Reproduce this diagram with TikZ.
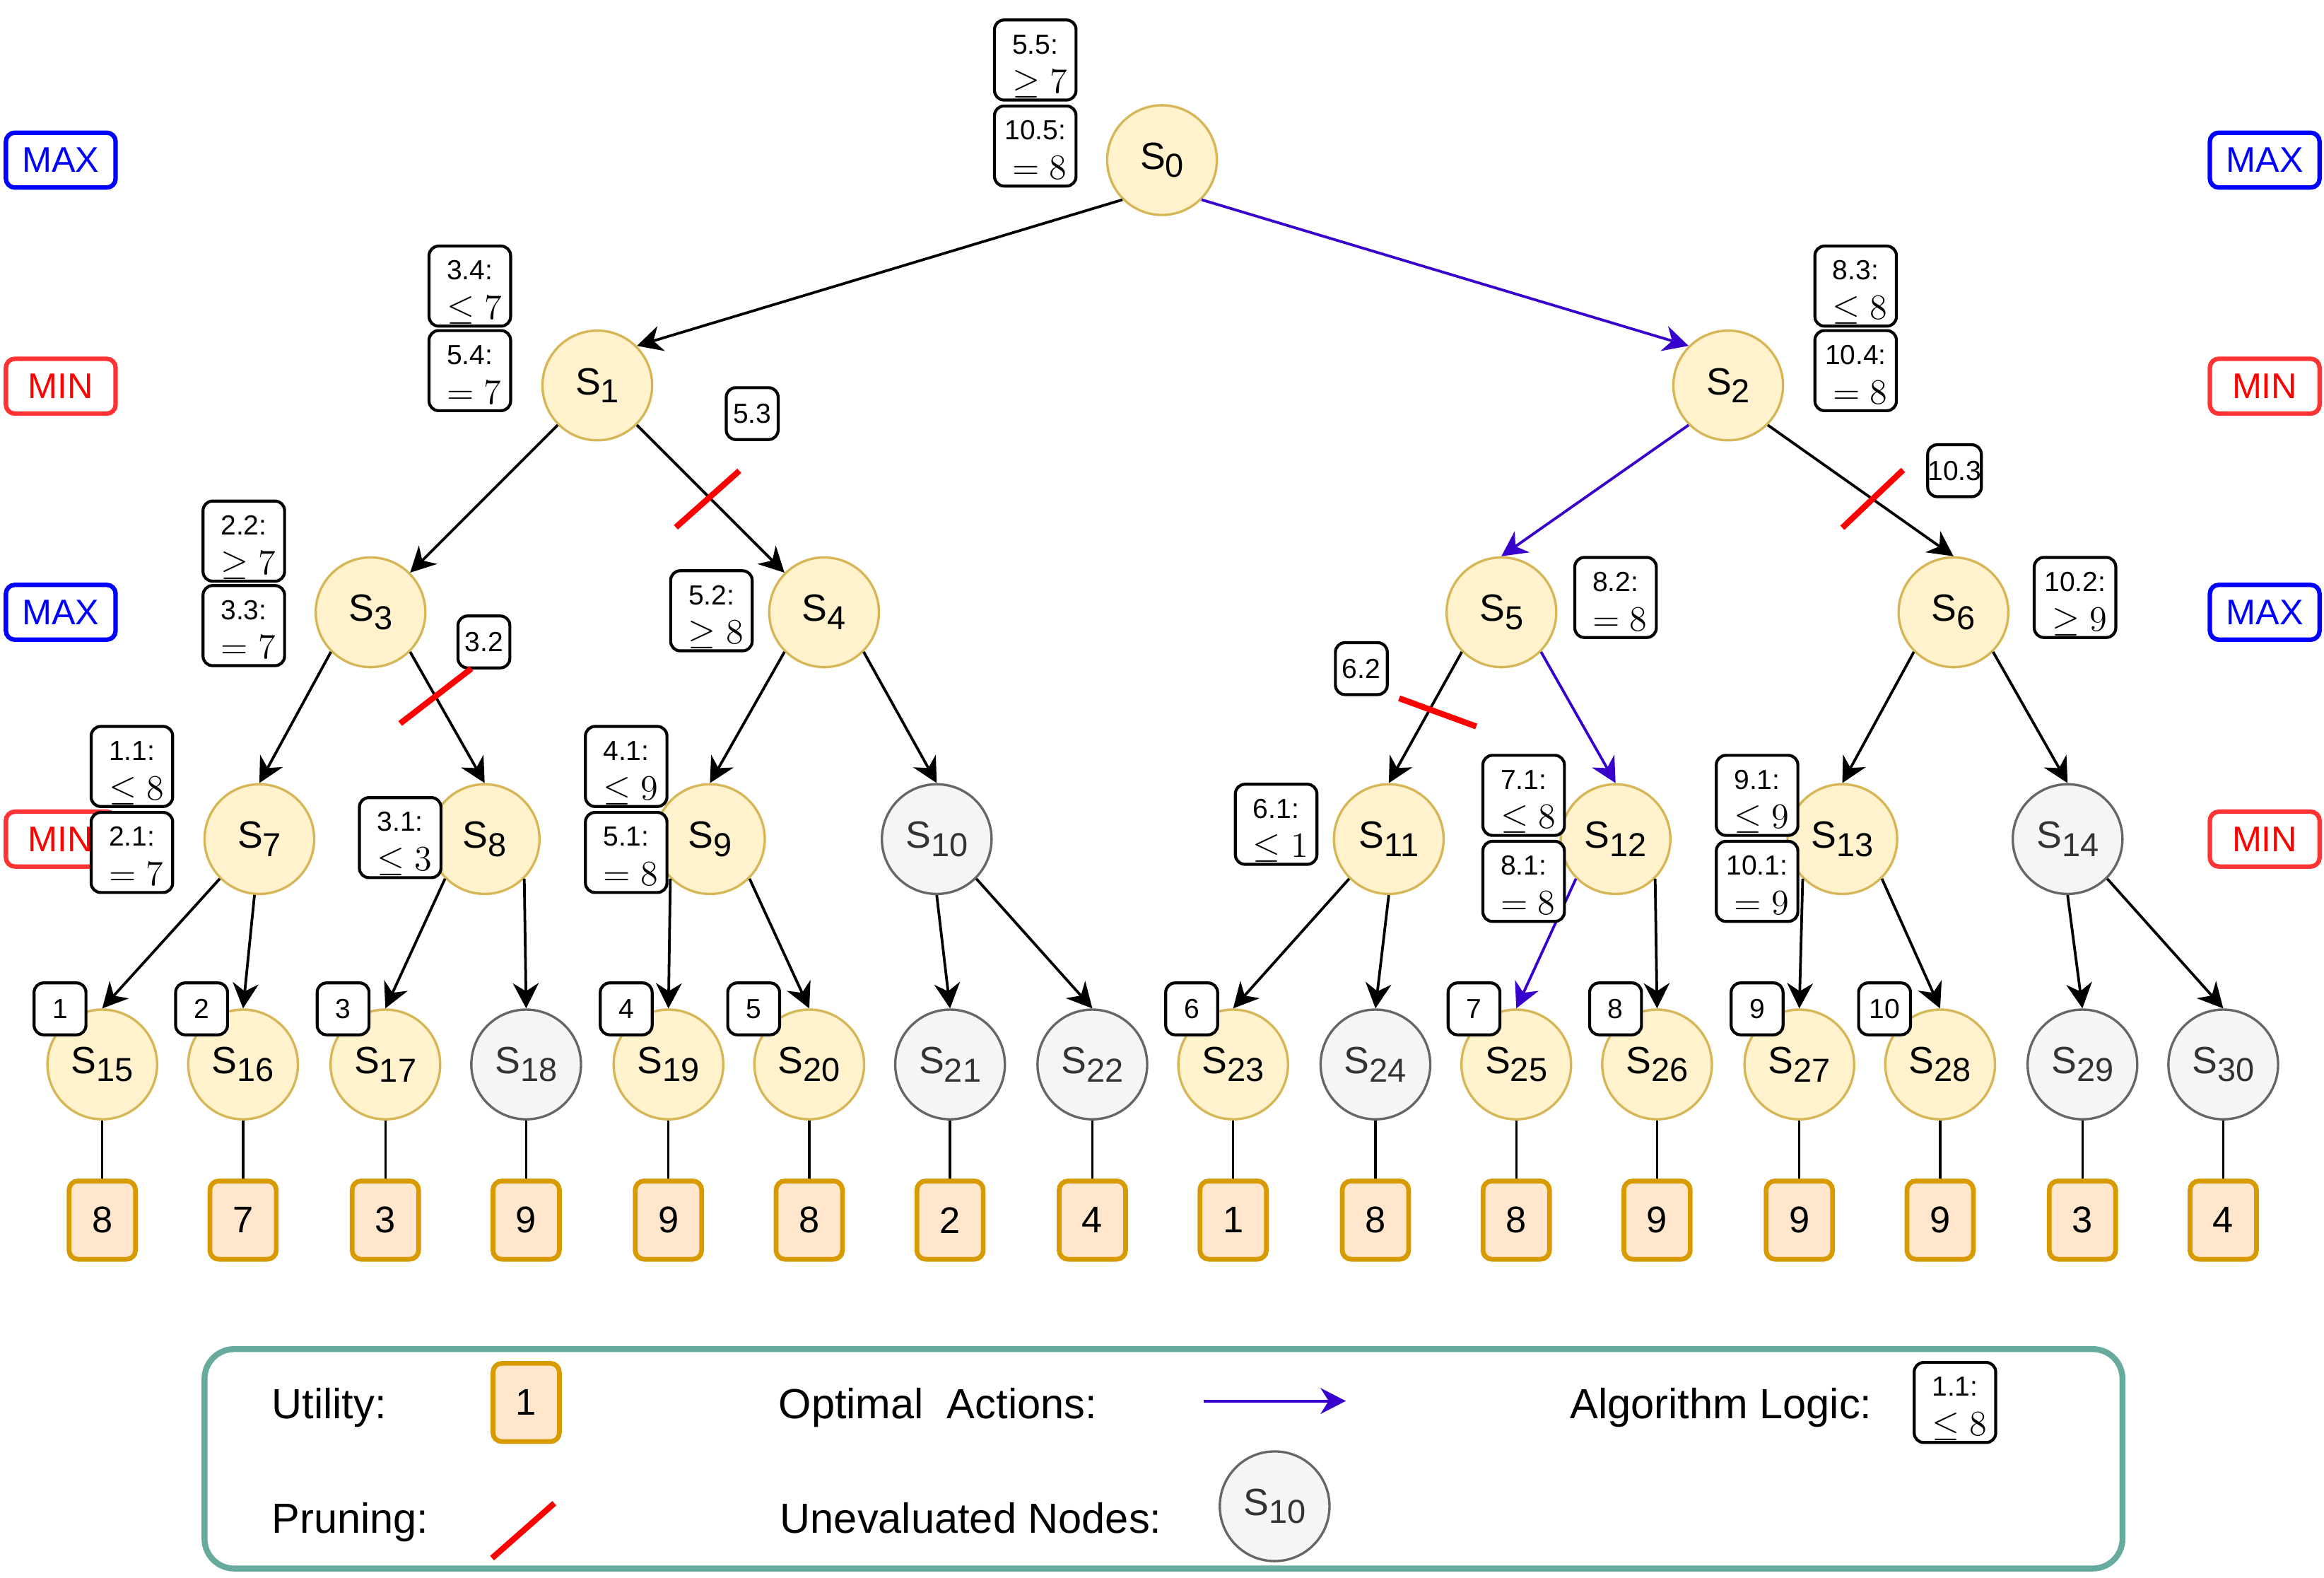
\documentclass[tikz,border=0pt]{standalone}
\usepackage[no-math]{fontspec}
\setmainfont{Liberation Sans}
\usetikzlibrary{arrows.meta}
\definecolor{nfill}{HTML}{FFF2CC}
\definecolor{ndraw}{HTML}{D6B656}
\definecolor{gfill}{HTML}{F5F5F5}
\definecolor{gdraw}{HTML}{666666}
\definecolor{gtext}{HTML}{333333}
\definecolor{ufill}{HTML}{FFE6CC}
\definecolor{udraw}{HTML}{D79B00}
\definecolor{optblue}{HTML}{3700CC}
\definecolor{minred}{HTML}{FF3333}
\definecolor{maxblue}{HTML}{0000FF}
\definecolor{legteal}{HTML}{67AB9F}
\newcommand{\snm}[1]{S\raisebox{-2.8pt}{\fontsize{11.2}{11.2}\selectfont #1}}
\newcommand{\mkann}[5]{%
  \node[annbox] (#1) at (#2,#3) {};
  \node[anntop] at ([yshift=-11.9pt]#1.north) {#4};
  \node[annmath] at ([yshift=-25.2pt,xshift=1.5pt]#1.north) {$#5$};
}
\tikzset{
  st/.style={circle, draw=ndraw, fill=nfill, line width=0.8pt, minimum size=37pt, inner sep=0pt, font=\fontsize{12.8}{12.8}\selectfont},
  un/.style={st, draw=gdraw, fill=gfill, text=gtext},
  util/.style={rectangle, rounded corners=3pt, draw=udraw, fill=ufill, line width=1.6pt, minimum width=22.4pt, minimum height=26.4pt, inner sep=0pt, font=\fontsize{12.5}{12.5}\selectfont},
  annbox/.style={rectangle, rounded corners=3.2pt, draw=black, fill=white, line width=1pt, minimum width=27.5pt, minimum height=27pt, inner sep=0pt},
  anntop/.style={anchor=base, inner sep=0pt, font=\fontsize{9.3}{9.3}\selectfont},
  annmath/.style={anchor=base, inner sep=0pt, font=\fontsize{12}{12}\selectfont},
  ordbox/.style={annbox, minimum width=17.5pt, minimum height=17.5pt, font=\fontsize{9.3}{9.3}\selectfont},
  lvlmax/.style={rectangle, rounded corners=3pt, draw=maxblue, text=maxblue, line width=1.5pt, minimum width=37pt, minimum height=18.5pt, inner sep=0pt, font=\fontsize{12}{12}\selectfont},
  lvlmin/.style={lvlmax, draw=minred, text=red},
  edge/.style={line width=0.9pt, -{Stealth[length=8.5pt,width=8.7pt,inset=2.7pt]}},
  opt/.style={edge, draw=optblue},
  prune/.style={draw=red, line width=2pt},
  leafline/.style={line width=0.8pt},
  legtext/.style={anchor=base west, inner sep=0pt, font=\fontsize{14.2}{14.2}\selectfont},
}
\begin{document}
\begin{tikzpicture}[x=0.5pt,y=-0.5pt]
\useasboundingbox (0,0) rectangle (1568,1064.4);

% level labels
\node[lvlmax] (lmaxa) at (41,108) {MAX};
\node[lvlmin] (lmina) at (41,260.5) {MIN};
\node[lvlmax] (lmaxb) at (41,413) {MAX};
\node[lvlmin] (lminb) at (41,566) {MIN};
\node[lvlmax] (rmaxa) at (1528,108) {MAX};
\node[lvlmin] (rmina) at (1528,260.5) {MIN};
\node[lvlmax] (rmaxb) at (1528,413) {MAX};
\node[lvlmin] (rminb) at (1528,566) {MIN};

% tree nodes
\node[st] (s0) at (784,108) {\snm{0}};
\node[st] (s1) at (403,260) {\snm{1}};
\node[st] (s2) at (1166,260) {\snm{2}};
\node[st] (s3) at (250,413) {\snm{3}};
\node[st] (s4) at (556,413) {\snm{4}};
\node[st] (s5) at (1013,413) {\snm{5}};
\node[st] (s6) at (1318,413) {\snm{6}};
\node[st] (s7) at (175,566) {\snm{7}};
\node[st] (s8) at (327,566) {\snm{8}};
\node[st] (s9) at (479,566) {\snm{9}};
\node[un] (s10) at (632,566) {\snm{10}};
\node[st] (s11) at (937,566) {\snm{11}};
\node[st] (s12) at (1090,566) {\snm{12}};
\node[st] (s13) at (1243,566) {\snm{13}};
\node[un] (s14) at (1395,566) {\snm{14}};
\node[st] (s15) at (69,718) {\snm{15}};
\node[st] (s16) at (164,718) {\snm{16}};
\node[st] (s17) at (260,718) {\snm{17}};
\node[un] (s18) at (355,718) {\snm{18}};
\node[st] (s19) at (451,718) {\snm{19}};
\node[st] (s20) at (546,718) {\snm{20}};
\node[un] (s21) at (641,718) {\snm{21}};
\node[un] (s22) at (737,718) {\snm{22}};
\node[st] (s23) at (832,718) {\snm{23}};
\node[un] (s24) at (928,718) {\snm{24}};
\node[st] (s25) at (1023,718) {\snm{25}};
\node[st] (s26) at (1118,718) {\snm{26}};
\node[st] (s27) at (1214,718) {\snm{27}};
\node[st] (s28) at (1309,718) {\snm{28}};
\node[un] (s29) at (1405,718) {\snm{29}};
\node[un] (s30) at (1500,718) {\snm{30}};

% utilities
\node[util] (u15) at (69,823) {8};
\node[util] (u16) at (164,823) {7};
\node[util] (u17) at (260,823) {3};
\node[util] (u18) at (355,823) {9};
\node[util] (u19) at (451,823) {9};
\node[util] (u20) at (546,823) {8};
\node[util] (u21) at (641,823) {2};
\node[util] (u22) at (737,823) {4};
\node[util] (u23) at (832,823) {1};
\node[util] (u24) at (928,823) {8};
\node[util] (u25) at (1023,823) {8};
\node[util] (u26) at (1118,823) {9};
\node[util] (u27) at (1214,823) {9};
\node[util] (u28) at (1309,823) {9};
\node[util] (u29) at (1405,823) {3};
\node[util] (u30) at (1500,823) {4};

\foreach \i in {15,...,30} {\draw[leafline] (s\i.south) -- (u\i.north);}

% edges
\draw[edge] (s0.225) -- (s1.45);
\draw[opt] (s0.315) -- (s2.135);
\draw[edge] (s1.225) -- (s3.45);
\draw[edge] (s1.315) -- (s4.135);
\draw[opt] (s2.225) -- (s5.north);
\draw[edge] (s2.315) -- (s6.north);
\draw[edge] (s3.225) -- (s7.north);
\draw[edge] (s3.315) -- (s8.north);
\draw[edge] (s4.225) -- (s9.north);
\draw[edge] (s4.315) -- (s10.north);
\draw[edge] (s5.225) -- (s11.north);
\draw[opt] (s5.315) -- (s12.north);
\draw[edge] (s6.225) -- (s13.north);
\draw[edge] (s6.315) -- (s14.north);
\draw[edge] (s7.225) -- (s15.north);
\draw[edge] (s7.265) -- (s16.north);
\draw[edge] (s8.225) -- (s17.north);
\draw[edge] (s8.315) -- (s18.north);
\draw[edge] (s9.225) -- (s19.north);
\draw[edge] (s9.315) -- (s20.north);
\draw[edge] (s10.south) -- (s21.north);
\draw[edge] (s10.315) -- (s22.north);
\draw[edge] (s11.225) -- (s23.north);
\draw[edge] (s11.south) -- (s24.north);
\draw[opt] (s12.225) -- (s25.north);
\draw[edge] (s12.315) -- (s26.north);
\draw[edge] (s13.225) -- (s27.north);
\draw[edge] (s13.315) -- (s28.north);
\draw[edge] (s14.south) -- (s29.north);
\draw[edge] (s14.315) -- (s30.north);

% algorithm logic annotations
\mkann{a55}{698.5}{40.5}{5.5:}{\geq 7}
\mkann{a105}{698.5}{98.5}{10.5:}{= 8}
\mkann{a34}{317}{193}{3.4:}{\leq 7}
\mkann{a54}{317}{250}{5.4:}{= 7}
\mkann{a83}{1252}{193}{8.3:}{\leq 8}
\mkann{a104}{1252}{250}{10.4:}{= 8}
\mkann{a22}{164.5}{365}{2.2:}{\geq 7}
\mkann{a33}{164.5}{422}{3.3:}{= 7}
\mkann{a52}{480}{412}{5.2:}{\geq 8}
\mkann{a82}{1090}{403}{8.2:}{= 8}
\mkann{a102}{1400}{403}{10.2:}{\geq 9}
\mkann{a11}{89}{517}{1.1:}{\leq 8}
\mkann{a21}{89}{575}{2.1:}{= 7}
\mkann{a31}{270}{565}{3.1:}{\leq 3}
\mkann{a41}{422.5}{517}{4.1:}{\leq 9}
\mkann{a51}{422.5}{575}{5.1:}{= 8}
\mkann{a61}{861}{556}{6.1:}{\leq 1}
\mkann{a71}{1028}{536.5}{7.1:}{\leq 8}
\mkann{a81}{1028}{594.5}{8.1:}{= 8}
\mkann{a91}{1185.5}{536.5}{9.1:}{\leq 9}
\mkann{a101}{1185.5}{594.5}{10.1:}{= 9}

\node[ordbox] (a53) at (507.5,279) {5.3};
\node[ordbox] (a103) at (1318.7,317.5) {10.3};
\node[ordbox] (a32) at (326.5,433) {3.2};
\node[ordbox] (a62) at (918.5,451) {6.2};

% evaluation order
\node[ordbox] (o1) at (40.5,680.5) {1};
\node[ordbox] (o2) at (136,680.5) {2};
\node[ordbox] (o3) at (231.5,680.5) {3};
\node[ordbox] (o4) at (422.5,680.5) {4};
\node[ordbox] (o5) at (508.5,680.5) {5};
\node[ordbox] (o6) at (804,680.5) {6};
\node[ordbox] (o7) at (994.5,680.5) {7};
\node[ordbox] (o8) at (1090,680.5) {8};
\node[ordbox] (o9) at (1185.5,680.5) {9};
\node[ordbox] (o10) at (1271.5,680.5) {10};

% pruning
\draw[prune] (456,355.7) -- (498.8,317.6);
\draw[prune] (270,488) -- (318,451);
\draw[prune] (944,471) -- (996,490);
\draw[prune] (1243,356) -- (1284,317);

% legend
\node[draw=legteal, line width=2pt, rounded corners=10pt, minimum width=647pt, minimum height=74pt, inner sep=0pt] (legend) at (785,984) {};
\node[legtext] (lutil) at (183,957) {Utility:};
\node[util] (lu) at (355,946) {1};
\node[legtext] (lopt) at (525,957) {Optimal\ \ Actions:};
\coordinate (la1) at (812,945);
\coordinate (la2) at (908,945);
\draw[opt] (la1) -- (la2);
\node[legtext] (lalg) at (1059,957) {Algorithm Logic:};
\mkann{lann}{1319}{946}{1.1:}{\leq 8}
\node[legtext] (lprune) at (183,1034) {Pruning:};
\draw[prune] (332,1051) -- (374,1014);
\node[legtext] (lunev) at (526,1034) {Unevaluated Nodes:};
\node[un] (leg10) at (860,1016) {\snm{10}};
\end{tikzpicture}
\end{document}
